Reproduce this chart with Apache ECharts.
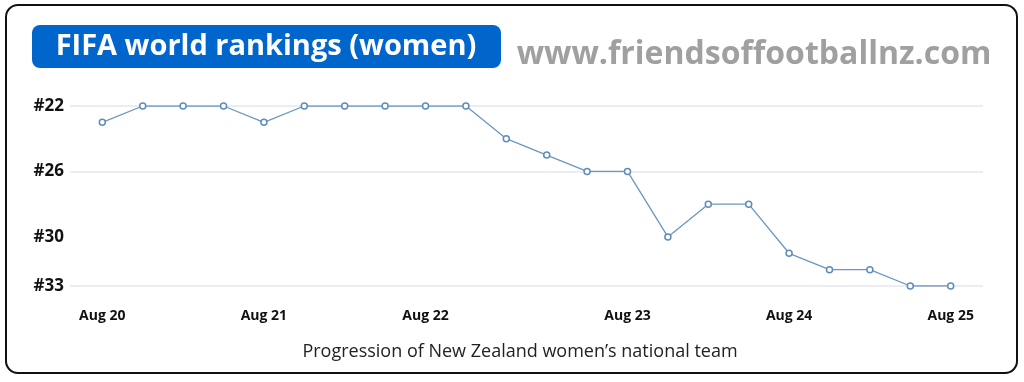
<!DOCTYPE html>
<html>
<head>
<meta charset="utf-8">
<script src="https://cdn.jsdelivr.net/npm/echarts@6/dist/echarts.min.js"></script>
<style>
html,body{margin:0;padding:0;background:#fff;}
#chart{width:1024px;height:382px;}
</style>
</head>
<body>
<div id="chart"></div>
<script>
// Ranking per release (index = release number)
const rankings = [23, 22, 22, 22, 23, 22, 22, 22, 22, 22, 24, 25, 26, 26, 30, 28, 28, 31, 32, 32, 33, 33];
// X-axis labels and the release index they sit under
const xLabelText = ['Aug 20', 'Aug 21', 'Aug 22', 'Aug 23', 'Aug 24', 'Aug 25'];
const xLabelIndex = [0, 4, 8, 13, 17, 21];
// Y-axis tick labels and gridlines
const yLabelValues = [22, 26, 30, 33];
const yGridValues = [22, 26, 33];
const titleText = 'FIFA world rankings (women)';
const siteText = 'www.friendsoffootballnz.com';
const subtitleText = 'Progression of New Zealand women\u2019s national team';

const chart = echarts.init(document.getElementById('chart'), null, {renderer: 'canvas'});
const points = rankings.map((r, i) => [i, r]);
const labelMap = {};
xLabelIndex.forEach((idx, k) => { labelMap[idx] = xLabelText[k]; });

const FONT = '"Open Sans", sans-serif';

chart.setOption({
  backgroundColor: '#fff',
  animation: false,
  grid: {left: 70, right: 41, top: 106, height: 180},
  xAxis: {
    type: 'value', min: -0.8, max: 21.8,
    axisLine: {show: false}, axisTick: {show: false}, splitLine: {show: false},
    axisLabel: {
      customValues: xLabelIndex,
      formatter: v => labelMap[Math.round(v)] || '',
      fontFamily: FONT, fontWeight: 'bold', fontSize: 14, color: '#111', margin: 23
    }
  },
  yAxis: {
    type: 'value', inverse: true, min: 22, max: 33,
    axisLine: {show: false},
    axisTick: {show: false, customValues: yGridValues},
    axisLabel: {
      customValues: yLabelValues,
      formatter: v => '#' + v,
      fontFamily: FONT, fontWeight: 'bold', fontSize: 17, color: '#111', margin: 6
    },
    splitLine: {show: true, lineStyle: {color: '#ececf3', width: 2}}
  },
  series: [{
    type: 'line',
    data: points,
    symbol: 'circle',
    symbolSize: 6,
    lineStyle: {color: '#6b96c2', width: 1.3},
    itemStyle: {color: '#fff', borderColor: '#5f8cba', borderWidth: 1.5},
    z: 5
  }],
  graphic: [
    {type: 'rect', shape: {x: 6, y: 5, width: 1011, height: 368, r: 12},
     style: {fill: 'none', stroke: '#111', lineWidth: 2}},
    {type: 'rect', shape: {x: 32, y: 25, width: 469, height: 43, r: 8},
     style: {fill: '#0066cc'}},
    {type: 'text', x: 266, y: 47,
     style: {text: titleText, fill: '#fff', font: 'bold 29px ' + FONT, align: 'center', verticalAlign: 'middle'}},
    {type: 'text', x: 754, y: 55,
     style: {text: siteText, fill: '#a0a0a0', font: 'bold 32px ' + FONT, align: 'center', verticalAlign: 'middle'}},
    {type: 'text', x: 520, y: 352,
     style: {text: subtitleText, fill: '#222', font: '18px ' + FONT, align: 'center', verticalAlign: 'middle'}}
  ]
});
</script>
</body>
</html>
